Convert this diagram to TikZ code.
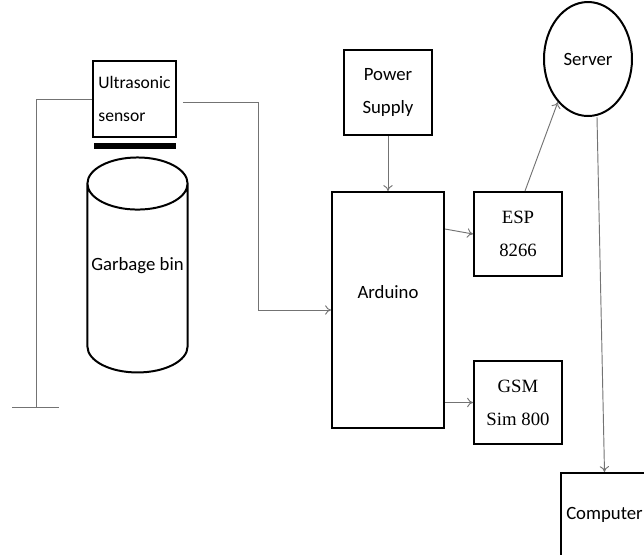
\documentclass[tikz,border=0pt]{standalone}
\usepackage{fontspec}
\newfontfamily\calibfont{Carlito}
\newfontfamily\tnrfont{Liberation Serif}
\usetikzlibrary{positioning, shapes.geometric, arrows.meta}

\tikzset{
	block/.style={draw, line width=1.7pt, align=center, font=\calibfont\fontsize{16}{28}\selectfont},
	tblock/.style={block, font=\tnrfont\fontsize{16}{28}\selectfont},
	wire/.style={draw=black!55, line width=0.8pt},
}

\begin{document}
\begin{tikzpicture}[>={To[length=5pt,width=8pt]}]
	\useasboundingbox (0,0) rectangle (19.32,-16.62);
	\clip (0,0) rectangle (19.32,-16.62);
	\node[block, minimum width=3.36cm, minimum height=7.08cm, text depth=1.1cm] (ard) at (11.64,-9.30) {Arduino};
	\node[block, minimum width=2.64cm, minimum height=2.55cm, above=1.65cm of ard] (power) {Power\\Supply};
	\node[tblock, minimum width=2.64cm, minimum height=2.52cm, right=0.84cm of ard.north east, anchor=north west] (esp) {ESP\\8266};
	\node[tblock, minimum width=2.64cm, minimum height=2.49cm, below=2.49cm of esp] (gsm) {GSM\\Sim 800};
	\node[block, ellipse, minimum width=2.64cm, minimum height=3.42cm, above=2.22cm of esp, xshift=2.1cm] (server) {Server};
	\node[block, minimum width=2.61cm, minimum height=2.49cm, below=0.81cm of gsm, xshift=2.595cm] (comp) {Computer};
	\node[block, align=left, font=\calibfont\fontsize{15}{28}\selectfont, minimum width=2.49cm, minimum height=2.28cm] (sensor) at (4.035,-2.97) {Ultrasonic\\sensor};
	\node[fill=black, inner sep=0, minimum width=2.46cm, minimum height=0.18cm, below=0.15cm of sensor] (bar) {};
	\node[block, cylinder, shape border rotate=90, aspect=0.52, minimum width=2.97cm, minimum height=6.45cm, text depth=1.2cm, below=0.21cm of bar, xshift=0.09cm] (bin) {Garbage bin};
	\coordinate (gnd) at (1.08,-12.21);
	\draw[wire] (sensor.west) -| (gnd);
	\draw[wire] ([xshift=-0.72cm]gnd) -- ([xshift=0.69cm]gnd);
	\draw[wire, ->] ([shift={(0.18,-0.09)}]sensor.east) -- ++(2.25,0) |- (ard.west);
	\draw[wire, ->] (power) -- (ard);
	\draw[wire, ->] ([yshift=-1.14cm]ard.north east) -- (esp.west);
	\draw[wire, ->] (ard.east |- gsm.west) -- (gsm.west);
	\draw[wire, ->] ([xshift=0.21cm]esp.north) -- (server.235);
	\draw[wire, ->] ([xshift=0.27cm]server.south) -- (comp.north);
\end{tikzpicture}
\end{document}
